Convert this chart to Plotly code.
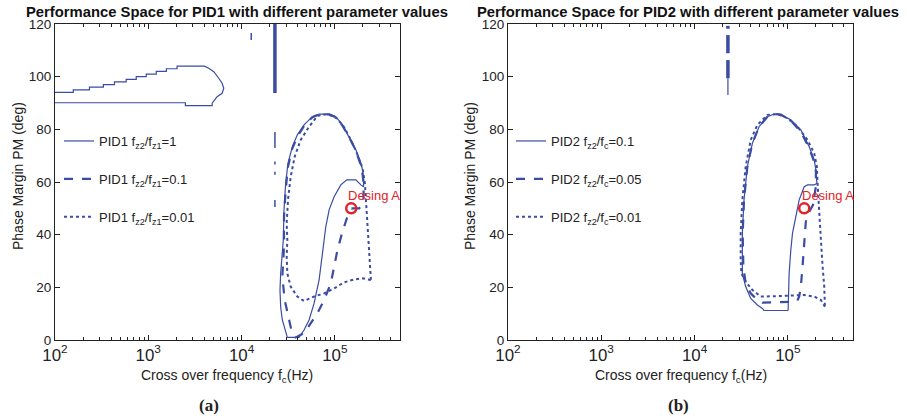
import plotly.graph_objects as go
import math

# ---------------- data (frequency in Hz, phase margin in deg) ----------------
# Panel (a): PID1
A_loop_f = [100, 157, 157, 234, 234, 330, 330, 434, 434, 580, 580, 743, 743, 951, 951,
            1218, 1218, 1563, 1563, 2037, 2037, 4000, 4450, 5040, 5700, 6190, 6450, 6190,
            5470, 5130, 4840, 4840, 2500, 2500, 100]
A_loop_pm = [94, 94, 95, 95, 96, 96, 97, 97, 98, 98, 99, 99, 100, 100, 101,
             101, 102, 102, 103, 103, 104, 104, 103.2, 101.9, 99.4, 97.5, 95.6, 93.7,
             92.4, 90.9, 89.9, 89.0, 89.0, 90.1, 90.1]

A1_f = [30970, 27370, 26260, 25830, 26260, 27370, 28050, 28520, 29720, 31490, 35050, 39670,
        46800, 57530, 67860, 86900, 102500, 120900, 142600, 168200, 190400, 198400, 203400,
        203400, 190400, 168200, 134600, 116000, 98350, 86900, 80040, 76800, 73700, 67860,
        59950, 52970, 46800, 41340, 30970]
A1_pm = [1.0, 7.6, 12.6, 19.0, 25.3, 32.9, 38.0, 49.4, 59.5, 67.1, 73.4, 77.9,
         81.7, 84.8, 85.8, 85.8, 84.8, 81.7, 77.2, 72.2, 67.1, 64.6, 60.8,
         58.2, 58.9, 60.8, 60.8, 58.9, 54.4, 49.4, 43.0, 38.0, 31.7, 22.8,
         13.9, 7.6, 3.8, 1.0, 1.0]

A2_f = [151100, 182700, 203400, 203400, 195000, 168200, 142600, 120900, 102500, 86900, 67860,
        57530, 46800, 39670, 35050, 31490, 29720, 28520, 28520, 27370, 29000, 31490, 34200,
        38070, 46800, 65110, 76800, 90570, 106800, 120900, 134600, 145000, 151100]
A2_pm = [50.0, 50.0, 52.0, 59.5, 65.2, 71.9, 77.0, 81.4, 84.6, 85.7, 85.7,
         84.6, 81.3, 77.2, 72.8, 65.8, 57.0, 46.8, 35.4, 24.1, 15.2, 8.9, 3.8,
         1.0, 2.6, 10.2, 15.2, 21.5, 34.2, 41.2, 46.2, 48.7, 49.6]

A3_f = [243800, 198400, 161400, 126000, 98350, 76800, 59950, 46800, 39670, 33640, 30970,
        30470, 30970, 30470, 31490, 33640, 37140, 43090, 52970, 65110, 83400, 105100,
        126000, 148600, 175300, 198400, 210200, 215400, 224500, 234000, 243800, 243800]
A3_pm = [22.8, 23.4, 23.0, 21.9, 19.6, 17.7, 16.5, 14.8, 16.5, 20.3, 25.3,
         31.7, 38.0, 44.3, 53.2, 62.0, 69.6, 76.0, 81.0, 85.1, 85.8, 84.2,
         80.8, 76.0, 70.3, 65.2, 59.5, 53.2, 43.0, 32.9, 24.1, 22.8]

A_vthick_f = [22800, 22800]
A_vthick_pm = [93.8, 120]
A_vthin_f = [22800, 22800, None, 22800, 22800, None, 22800, 22800, None, 22800, 22800, None,
             12700, 12700]
A_vthin_pm = [79.0, 72.9, None, 67.8, 66.6, None, 63.9, 62.8, None, 53.2, 50.5, None,
              116.6, 113.9]

# Panel (b): PID2
B1_f = [55660, 53410, 47200, 40010, 35340, 32550, 32550, 32550, 33920, 36840, 41700, 49180,
        60450, 71310, 84090, 107700, 138000, 169600, 191900, 200000, 205000, 191900, 162700,
        149800, 132400, 121900, 112240, 107700, 103350, 100800, 99200, 55660]
B1_pm = [11.2, 12.0, 13.3, 15.8, 20.3, 25.3, 30.4, 40.5, 53.2, 65.8, 74.7, 81.0,
         84.8, 85.8, 85.6, 83.6, 79.8, 73.4, 68.4, 64.6, 59.5, 58.9, 58.9,
         58.2, 53.2, 46.8, 40.5, 34.2, 25.3, 11.4, 11.2, 11.2]

B2_f = [188800, 169600, 156100, 149800, 143800, 138000, 132400, 125000, 53410, 47200, 40010,
        35340, 33370, 32830, 33920, 36840, 41700, 49180, 60450, 71310, 84090, 107700,
        138000, 169600, 191900, 200000, 200000, 191900, 188800]
B2_pm = [51.7, 48.7, 45.0, 38.0, 27.9, 20.3, 16.5, 14.6, 14.2, 15.2, 17.7,
         21.5, 27.9, 40.5, 53.2, 65.8, 74.7, 81.0, 84.8, 85.8, 85.6, 83.3,
         79.1, 72.8, 67.7, 64.0, 58.2, 54.4, 51.7]

B3_f = [250000, 226400, 191900, 149800, 84090, 51250, 41700, 35340, 31760, 31240, 31240,
        32550, 35340, 40010, 47200, 60450, 77450, 99200, 127000, 162700, 191900, 205000,
        208400, 217200, 226400, 236000, 245900, 250000]
B3_pm = [12.6, 15.2, 16.5, 17.1, 16.7, 16.5, 19.0, 22.2, 25.3, 30.4, 40.5,
         53.2, 65.8, 76.0, 81.7, 85.5, 85.8, 84.2, 81.0, 76.0, 70.9, 65.8,
         59.5, 46.8, 38.0, 27.9, 20.3, 12.6]

B_vthick_f = [22800, 22800, None, 22800, 22800, None, 22800, 22800]
B_vthick_pm = [118.2, 119.3, None, 108.9, 115.8, None, 99.4, 106.3]
B_vthin_f = [22800, 22800]
B_vthin_pm = [93.0, 99.4]

design_f = [150000]
design_pm = [50]

legend_a = ["PID1 f<sub>z2</sub>/f<sub>z1</sub>=1",
            "PID1 f<sub>z2</sub>/f<sub>z1</sub>=0.1",
            "PID1 f<sub>z2</sub>/f<sub>z1</sub>=0.01"]
legend_b = ["PID2 f<sub>z2</sub>/f<sub>c</sub>=0.1",
            "PID2 f<sub>z2</sub>/f<sub>c</sub>=0.05",
            "PID2 f<sub>z2</sub>/f<sub>c</sub>=0.01"]
titles = ["Performance Space for PID1 with different parameter values",
          "Performance Space for PID2 with different parameter values"]
captions = ["(a)", "(b)"]

# ---------------- styling ----------------
BLUE = "#3B4CA3"
RED = "#E32228"
FONT = "Arial, Liberation Sans, sans-serif"
W, H = 907, 419

fig = go.Figure()

def add(x, y, dash, width, xa, ya, name=None, legend=None, group=None):
    fig.add_trace(go.Scatter(
        x=x, y=y, mode="lines", xaxis=xa, yaxis=ya,
        line=dict(color=BLUE, width=width, dash=dash),
        name=name, showlegend=name is not None,
        legend=legend, legendgroup=group, connectgaps=False, hoverinfo="skip"))

# panel a
add(A1_f, A1_pm, "solid", 1.2, "x", "y", legend_a[0], "legend", "a1")
add(A2_f, A2_pm, "dash", 2.2, "x", "y", legend_a[1], "legend", "a2")
add(A3_f, A3_pm, "dot", 2.0, "x", "y", legend_a[2], "legend", "a3")
add(A_loop_f, A_loop_pm, "solid", 1.2, "x", "y")
add(A_vthick_f, A_vthick_pm, "solid", 3.5, "x", "y")
add(A_vthin_f, A_vthin_pm, "solid", 1.5, "x", "y")

# panel b
add(B1_f, B1_pm, "solid", 1.2, "x2", "y2", legend_b[0], "legend2", "b1")
add(B2_f, B2_pm, "dash", 2.2, "x2", "y2", legend_b[1], "legend2", "b2")
add(B3_f, B3_pm, "dot", 2.0, "x2", "y2", legend_b[2], "legend2", "b3")
add(B_vthick_f, B_vthick_pm, "solid", 3.5, "x2", "y2")
add(B_vthin_f, B_vthin_pm, "solid", 1.2, "x2", "y2")

for xa, ya in (("x", "y"), ("x2", "y2")):
    fig.add_trace(go.Scatter(
        x=design_f, y=design_pm, mode="markers", xaxis=xa, yaxis=ya,
        marker=dict(symbol="circle-open", size=10, color=RED, line=dict(width=2.5, color=RED)),
        showlegend=False, hoverinfo="skip"))

def px_x(p):
    return p / W

def px_y(p):
    return 1 - p / H

axis_common = dict(
    showline=True, linecolor="#222", linewidth=1, mirror="ticks", automargin=False,
    ticks="inside", ticklen=5, tickcolor="#222", showgrid=False, zeroline=False,
    tickfont=dict(family=FONT, size=13.5, color="#222"),
)
xaxis_common = dict(axis_common, type="log", range=[2, math.log10(5e5)], dtick=1,
                    exponentformat="power",
                    minor=dict(ticks="inside", ticklen=3, tickcolor="#222", showgrid=False))
yaxis_common = dict(axis_common, range=[0, 120], dtick=20)

leg_common = dict(xanchor="left", yanchor="top", bgcolor="rgba(0,0,0,0)",
                  font=dict(family=FONT, size=13, color="#222"),
                  tracegroupgap=18, itemwidth=30)

fig.update_layout(
    width=W, height=H, margin=dict(l=0, r=0, t=0, b=0, autoexpand=False),
    paper_bgcolor="white", plot_bgcolor="white",
    font=dict(family=FONT, size=13, color="#222"),
    xaxis=dict(xaxis_common, domain=[px_x(55), px_x(400)], anchor="y"),
    yaxis=dict(yaxis_common, domain=[px_y(340), px_y(24)], anchor="x"),
    xaxis2=dict(xaxis_common, domain=[px_x(508), px_x(853)], anchor="y2"),
    yaxis2=dict(yaxis_common, domain=[px_y(340), px_y(24)], anchor="x2"),
    legend=dict(leg_common, x=px_x(59), y=px_y(126)),
    legend2=dict(leg_common, x=px_x(511), y=px_y(126)),
)

ann = []
for cx, t in ((237, titles[0]), (688, titles[1])):
    ann.append(dict(x=px_x(cx), y=px_y(12), xref="paper", yref="paper", text="<b>" + t + "</b>",
                    showarrow=False, font=dict(family=FONT, size=14.8, color="#111"),
                    xanchor="center", yanchor="middle"))
for cx in (227, 681):
    ann.append(dict(x=px_x(cx), y=px_y(376), xref="paper", yref="paper",
                    text="Cross over frequency f<sub>c</sub>(Hz)", showarrow=False,
                    font=dict(family=FONT, size=14, color="#222"), xanchor="center", yanchor="middle"))
for cx in (18, 470):
    ann.append(dict(x=px_x(cx), y=px_y(176), xref="paper", yref="paper",
                    text="Phase Margin PM (deg)", showarrow=False, textangle=-90,
                    font=dict(family=FONT, size=14, color="#222"), xanchor="center", yanchor="middle"))
for cx, c in ((209, captions[0]), (678, captions[1])):
    ann.append(dict(x=px_x(cx), y=px_y(405), xref="paper", yref="paper", text="<b>" + c + "</b>",
                    showarrow=False, font=dict(family="Liberation Serif, DejaVu Serif, serif", size=17, color="#222"),
                    xanchor="center", yanchor="middle"))
for xr, yr, fx in (("x", "y", 131300), ("x2", "y2", 134600)):
    ann.append(dict(x=math.log10(fx), y=55, xref=xr, yref=yr, text="Desing A", showarrow=False,
                    font=dict(family=FONT, size=13, color=RED), xanchor="left", yanchor="middle"))
fig.update_layout(annotations=ann)

fig.write_html("out.html")
